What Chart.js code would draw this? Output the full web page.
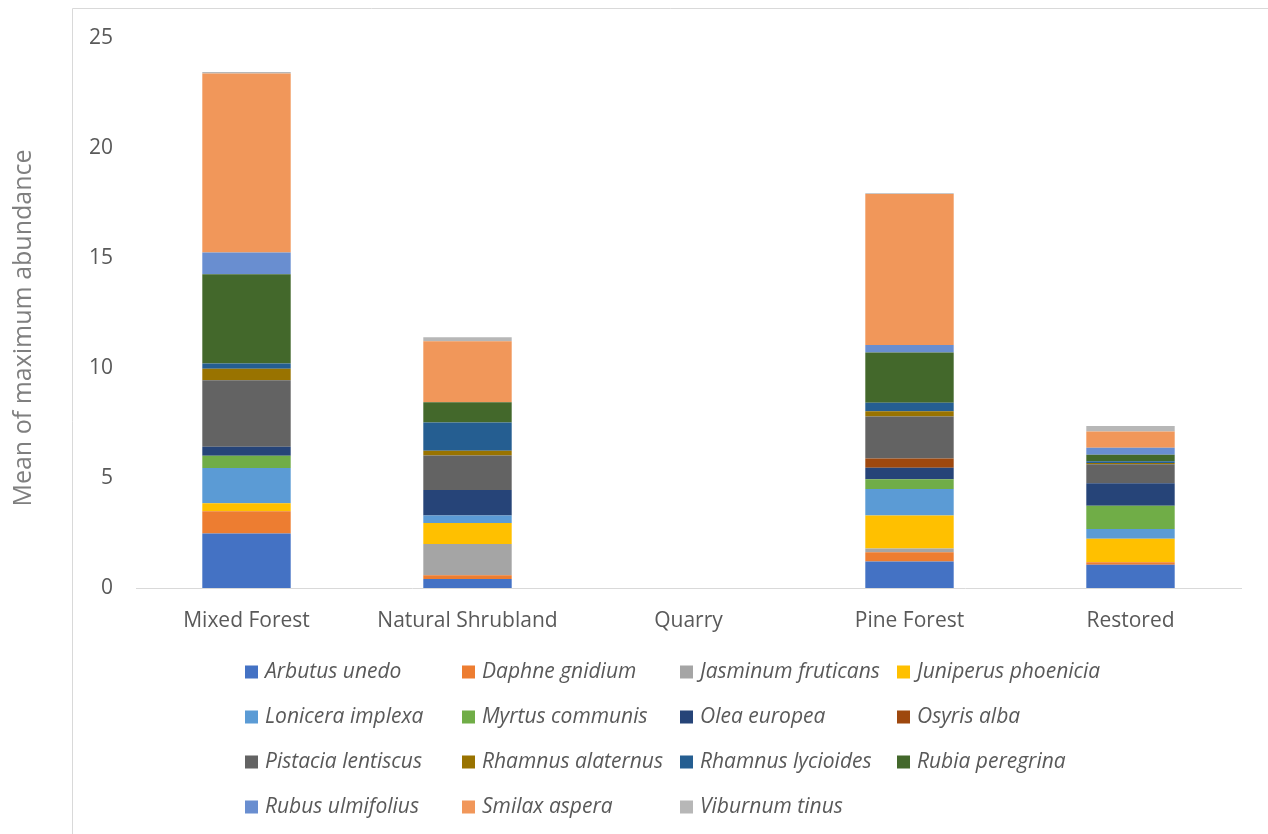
<!DOCTYPE html>
<html>
<head>
<meta charset="utf-8">
<script src="https://cdn.jsdelivr.net/npm/chart.js@4.4.0/dist/chart.umd.min.js"></script>
<style>
  html, body { margin: 0; padding: 0; background: #fff; }
  #wrap { width: 1268px; height: 834px; }
</style>
</head>
<body>
<div id="wrap"><canvas id="grafico" width="1268" height="834"></canvas></div>
<script>
// categorias y valores
const categorias = ["Mixed Forest", "Natural Shrubland", "Quarry", "Pine Forest", "Restored"];
const yTicks = [0, 5, 10, 15, 20, 25];

const arbutus   = [2.48, 0.41, 0, 1.21, 1.06];
const daphne    = [1.01, 0.17, 0, 0.41, 0.11];
const jasminum  = [0,    1.42, 0, 0.18, 0];
const juniperus = [0.36, 0.95, 0, 1.49, 1.07];
const lonicera  = [1.61, 0.34, 0, 1.21, 0.44];
const myrtus    = [0.55, 0,    0, 0.44, 1.06];
const olea      = [0.41, 1.16, 0, 0.53, 1.02];
const osyris    = [0,    0,    0, 0.42, 0];
const pistacia  = [3.02, 1.57, 0, 1.91, 0.86];
const rhAlat    = [0.53, 0.22, 0, 0.23, 0.06];
const rhLyc     = [0.23, 1.28, 0, 0.39, 0.08];
const rubia     = [4.06, 0.92, 0, 2.29, 0.30];
const rubus     = [0.99, 0,    0, 0.34, 0.32];
const smilax    = [8.14, 2.78, 0, 6.86, 0.73];
const viburnum  = [0.06, 0.18, 0, 0.03, 0.25];

const especies = [
  ["Arbutus unedo", arbutus, "#4472C4"],
  ["Daphne gnidium", daphne, "#ED7D31"],
  ["Jasminum fruticans", jasminum, "#A5A5A5"],
  ["Juniperus phoenicia", juniperus, "#FFC000"],
  ["Lonicera implexa", lonicera, "#5B9BD5"],
  ["Myrtus communis", myrtus, "#70AD47"],
  ["Olea europea", olea, "#264478"],
  ["Osyris alba", osyris, "#9E480E"],
  ["Pistacia lentiscus", pistacia, "#636363"],
  ["Rhamnus alaternus", rhAlat, "#997300"],
  ["Rhamnus lycioides", rhLyc, "#255E91"],
  ["Rubia peregrina", rubia, "#43682B"],
  ["Rubus ulmifolius", rubus, "#698ED0"],
  ["Smilax aspera", smilax, "#F1975A"],
  ["Viburnum tinus", viburnum, "#B7B7B7"],
];

const FUENTE = "'Open Sans', sans-serif";
const GRIS = "#595959";

// marco, titulo del eje y leyenda en 4 columnas
const extras = {
  id: "extras",
  beforeDraw(chart) {
    const c = chart.ctx;
    c.save();
    c.strokeStyle = "#d9d9d9";
    c.lineWidth = 1;
    c.beginPath();
    c.moveTo(72.5, 834);
    c.lineTo(72.5, 8.5);
    c.lineTo(1268, 8.5);
    c.stroke();
    c.restore();
  },
  afterDraw(chart) {
    const c = chart.ctx;
    c.save();
    c.translate(24, 328);
    c.rotate(-Math.PI / 2);
    c.font = "25px " + FUENTE;
    c.fillStyle = "#7f7f7f";
    c.textAlign = "center";
    c.textBaseline = "middle";
    c.fillText("Mean of maximum abundance", 0, 0);
    c.restore();

    const cols = [245, 462, 680, 897];
    const filas = [672, 717, 762, 807];
    c.save();
    c.font = "italic 21px " + FUENTE;
    c.textBaseline = "middle";
    c.textAlign = "left";
    chart.data.datasets.forEach((ds, i) => {
      const x = cols[i % 4], y = filas[Math.floor(i / 4)];
      c.fillStyle = ds.backgroundColor;
      c.fillRect(x, y - 6.5, 13, 13);
      c.fillStyle = GRIS;
      c.fillText(ds.label, x + 20, y);
    });
    c.restore();
  }
};

new Chart(document.getElementById("grafico"), {
  type: "bar",
  data: {
    labels: categorias,
    datasets: especies.map(([label, data, color]) => ({
      label,
      data,
      backgroundColor: color,
      borderWidth: 0,
      barPercentage: 0.4,
      categoryPercentage: 1.0,
    })),
  },
  options: {
    responsive: false,
    animation: false,
    layout: { padding: { left: 0, right: 27, top: 38, bottom: 0 } },
    plugins: { legend: { display: false }, tooltip: { enabled: false } },
    scales: {
      x: {
        stacked: true,
        grid: { display: false },
        border: { display: true, color: "#d9d9d9", width: 1 },
        ticks: { color: GRIS, font: { family: FUENTE, size: 21 }, padding: 12 },
        afterFit: (s) => { s.height = 246; },
      },
      y: {
        stacked: true,
        min: 0,
        max: 25,
        grid: { display: false },
        border: { display: false },
        afterBuildTicks: (s) => { s.ticks = yTicks.map(v => ({ value: v })); },
        ticks: { color: GRIS, font: { family: FUENTE, size: 21 }, padding: 15 },
        afterFit: (s) => { s.width = 136; },
      },
    },
  },
  plugins: [extras],
});
</script>
</body>
</html>
